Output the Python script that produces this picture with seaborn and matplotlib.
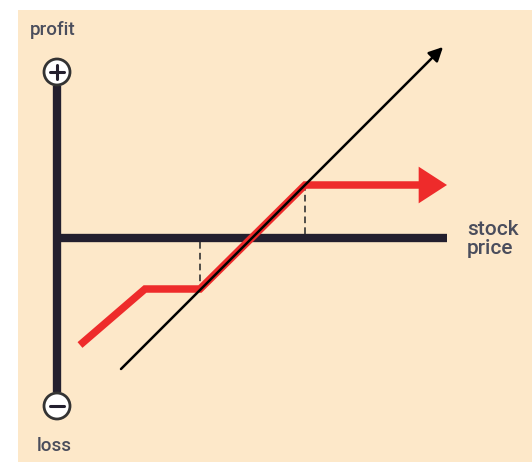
import matplotlib
matplotlib.use("Agg")
import matplotlib.pyplot as plt
import seaborn as sns
import pandas as pd
from matplotlib.patches import Rectangle, Circle

sns.set_theme(style="white")
plt.rcParams['font.family'] = ['Roboto', 'DejaVu Sans']

# data (price offset from axis origin, profit)
stock_price = [64, 383]
stock_profit = [-131, 188]
collar_price = [23, 88, 143, 248, 365]
collar_profit = [-107, -51, -51, 53, 53]
put_strike = 143
call_strike = 248

BG = "#FDE8C9"
AX = "#231F2E"
RED = "#EE2B2B"

fig = plt.figure(figsize=(5.32, 4.62), dpi=100)
ax = fig.add_axes([0, 0, 1, 1])
ax.set_xlim(-57, 475)
ax.set_ylim(-224, 238)
ax.axis("off")

ax.add_patch(Rectangle((-39, -224), 520, 452, facecolor=BG, edgecolor="none", zorder=0))

# axes
ax.plot([0, 390], [0, 0], color=AX, lw=6, solid_capstyle="butt", zorder=2)
ax.plot([0, 0], [152, -154], color=AX, lw=6, solid_capstyle="butt", zorder=2)

# dashed strike guides
ax.plot([put_strike, put_strike], [-4, -51], color="#333333", lw=1.2, ls=(0, (4, 2.5)), zorder=2)
ax.plot([call_strike, call_strike], [4, 53], color="#333333", lw=1.2, ls=(0, (4, 2.5)), zorder=2)

df_c = pd.DataFrame({"price": collar_price, "profit": collar_profit})
sns.lineplot(data=df_c, x="price", y="profit", color=RED, lw=5.4, sort=False, ax=ax, zorder=3)
ax.lines[-1].set_solid_capstyle("butt")
ax.lines[-1].set_solid_joinstyle("miter")
ax.annotate("", xy=(390, 53), xytext=(362, 53),
            arrowprops=dict(arrowstyle="-|>,head_length=1.7,head_width=1.1", color=RED, lw=0,
                            shrinkA=0, shrinkB=0), zorder=3)

df_s = pd.DataFrame({"price": stock_price, "profit": stock_profit})
sns.lineplot(data=df_s, x="price", y="profit", color="black", lw=1.8, sort=False, ax=ax, zorder=4)
ax.annotate("", xy=(386, 191), xytext=(378, 183),
            arrowprops=dict(arrowstyle="-|>,head_length=0.7,head_width=0.35", color="black", lw=1.8,
                            shrinkA=0, shrinkB=0), zorder=4)

# plus / minus circles
for cy, sign in [(166, "+"), (-168, "-")]:
    ax.add_patch(Circle((0, cy), 13, facecolor="white", edgecolor="#333333", lw=2.0, zorder=5))
    ax.plot([-7, 7], [cy, cy], color=AX, lw=2.2, zorder=6)
    if sign == "+":
        ax.plot([0, 0], [cy - 7, cy + 7], color=AX, lw=2.2, zorder=6)

TXT = "#4A4D5C"
ax.text(-27, 208, "profit", fontsize=13.5, color=TXT, ha="left", va="center", fontweight="medium")
ax.text(-20, -208, "loss", fontsize=13.5, color=TXT, ha="left", va="center", fontweight="medium")
ax.text(410, -1, "stock\nprice", fontsize=15, color=TXT, ha="left", va="center", linespacing=1.0,
        fontweight="medium")

fig.savefig("out.png", dpi=100)
